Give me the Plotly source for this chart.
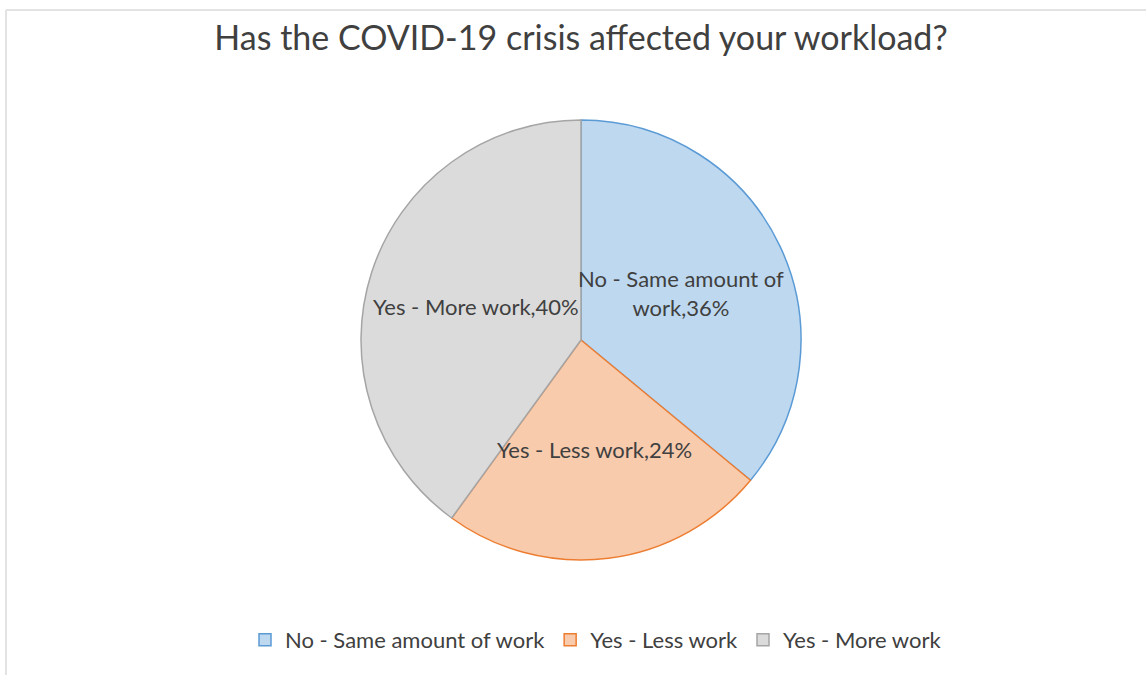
import textwrap
import math
import plotly.graph_objects as go

# Survey answers and their shares (%)
categories = ["No - Same amount of work", "Yes - Less work", "Yes - More work"]
shares = [36, 24, 40]

fill_colors = ["#bed8ef", "#f8cbad", "#dbdbdb"]
edge_colors = ["#5b9bd5", "#ed7d31", "#a5a5a5"]

W, H = 1146, 675
# pie placement in pixels
cx, cy, R = 581, 340, 220

fig = go.Figure(
    go.Pie(
        labels=categories,
        values=shares,
        sort=False,
        direction="clockwise",
        rotation=0,
        textinfo="none",
        hoverinfo="label+percent",
        marker=dict(colors=fill_colors, line=dict(color=edge_colors, width=1.5)),
        domain=dict(x=[(cx - R) / W, (cx + R) / W], y=[1 - (cy + R) / H, 1 - (cy - R) / H]),
    )
)

# data labels placed half way out along each slice's mid angle
total = sum(shares)
cum = 0
annotations = []
for lab, v in zip(categories, shares):
    mid = (cum + v / 2) / total * 2 * math.pi
    cum += v
    px = cx + 0.5 * R * math.sin(mid)
    py = cy - 0.5 * R * math.cos(mid)
    txt = textwrap.fill(f"{lab},{v}%", 20).replace("\n", "<br>")
    annotations.append(
        dict(
            x=px / W, y=1 - py / H, xref="paper", yref="paper",
            text=txt, showarrow=False, xanchor="center", yanchor="middle",
            font=dict(family="Lato", size=22, color="#404040"),
        )
    )

fig.update_layout(
    width=W,
    height=H,
    margin=dict(l=0, r=0, t=0, b=0),
    paper_bgcolor="white",
    plot_bgcolor="white",
    title=dict(
        text="Has the COVID-19 crisis affected your workload?",
        x=581 / W, xanchor="center", y=1 - 38 / H, yanchor="middle",
        font=dict(family="Lato", size=34, color="#404040"),
    ),
    legend=dict(
        orientation="h", x=596 / W, xanchor="center", y=1 - 640 / H, yanchor="middle",
        font=dict(family="Lato", size=22, color="#404040"),
        traceorder="normal",
    ),
    annotations=annotations,
    shapes=[
        dict(type="line", xref="paper", yref="paper", x0=6 / W, x1=1, y0=1 - 10 / H, y1=1 - 10 / H,
             line=dict(color="#e3e3e3", width=2)),
        dict(type="line", xref="paper", yref="paper", x0=6 / W, x1=6 / W, y0=0, y1=1 - 10 / H,
             line=dict(color="#e3e3e3", width=2)),
    ],
)

fig.write_html("out.html")
